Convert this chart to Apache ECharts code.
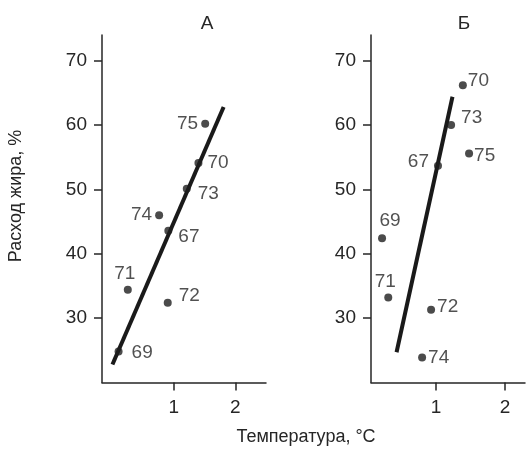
<!DOCTYPE html>
<html>
<head>
<meta charset="utf-8">
<script src="https://cdn.jsdelivr.net/npm/echarts@6/dist/echarts.min.js"></script>
<style>
  html, body { margin: 0; padding: 0; background: #fff; }
  #chart { width: 526px; height: 455px; }
</style>
</head>
<body>
<div id="chart"></div>
<script>
// панель А
const namesA = ['75', '70', '73', '74', '67', '71', '72', '69'];
const tempA = [1.51, 1.40, 1.21, 0.76, 0.91, 0.25, 0.90, 0.10];
const fatA = [60.2, 54.1, 50.1, 46.0, 43.6, 34.4, 32.4, 24.8];
const fitTempA = [0.0, 1.81];
const fitFatA = [22.8, 62.8];

// панель Б
const namesB = ['70', '73', '75', '67', '69', '71', '72', '74'];
const tempB = [1.39, 1.22, 1.48, 1.03, 0.22, 0.31, 0.93, 0.80];
const fatB = [66.2, 60.0, 55.6, 53.7, 42.4, 33.2, 31.3, 23.9];
const fitTempB = [0.43, 1.24];
const fitFatB = [24.7, 64.4];

const xTicks = [1, 2];
const yTicks = [30, 40, 50, 60, 70];

const ink = '#262626';
const font = 'Liberation Sans, Arial, sans-serif';

// положение подписей точек
const labelA = {
  '75': { position: 'left', distance: 3 },
  '70': { position: 'right', distance: 5 },
  '73': { position: 'right', distance: 7, offset: [0, 5] },
  '74': { position: 'left', distance: 3 },
  '67': { position: 'right', distance: 6, offset: [0, 6] },
  '71': { position: 'top', distance: 3, offset: [-3, 0] },
  '72': { position: 'right', distance: 7, offset: [0, -7] },
  '69': { position: 'right', distance: 9, offset: [0, 1] }
};
const labelB = {
  '70': { position: 'right', distance: 1, offset: [0, -4] },
  '73': { position: 'right', distance: 6, offset: [0, -7] },
  '75': { position: 'right', distance: 1, offset: [0, 2] },
  '67': { position: 'left', distance: 5, offset: [0, -4] },
  '69': { position: 'top', distance: 4, offset: [8, 0] },
  '71': { position: 'top', distance: 2, offset: [-3, 0] },
  '72': { position: 'right', distance: 2, offset: [0, -3] },
  '74': { position: 'right', distance: 2, offset: [0, 0] }
};

function points(names, temp, fat, labels) {
  return names.map(function (n, i) {
    return { value: [temp[i], fat[i]], name: n, label: labels[n] };
  });
}

function xAxis(idx, min, max) {
  return {
    type: 'value', gridIndex: idx, min: min, max: max,
    axisLine: { onZero: false, lineStyle: { color: ink, width: 1.5 } },
    axisTick: { customValues: xTicks, length: 8, lineStyle: { color: ink, width: 1.5 } },
    axisLabel: { customValues: xTicks, color: ink, fontSize: 19, fontFamily: font, margin: 16 },
    splitLine: { show: false }
  };
}

function yAxis(idx) {
  return {
    type: 'value', gridIndex: idx, min: 20, max: 74,
    axisLine: { show: true, onZero: false, lineStyle: { color: ink, width: 1.5 } },
    axisTick: { show: true, customValues: yTicks, length: 8, lineStyle: { color: ink, width: 1.5 } },
    axisLabel: { customValues: yTicks, color: ink, fontSize: 19, fontFamily: font, margin: 15 },
    splitLine: { show: false }
  };
}

function scatter(idx, data) {
  return {
    type: 'scatter', xAxisIndex: idx, yAxisIndex: idx,
    symbolSize: 8, itemStyle: { color: '#1e1e1e' },
    label: { show: true, formatter: '{b}', color: ink, fontSize: 19, fontFamily: font },
    data: data, z: 3
  };
}

function fit(idx, xs, ys) {
  return {
    type: 'line', xAxisIndex: idx, yAxisIndex: idx, showSymbol: false,
    lineStyle: { color: '#1a1a1a', width: 4 },
    data: xs.map(function (x, i) { return [x, ys[i]]; }), z: 2
  };
}

const chart = echarts.init(document.getElementById('chart'));
chart.setOption({
  backgroundColor: '#fff',
  animation: false,
  grid: [
    { left: 102, top: 35, width: 164, height: 347.5 },
    { left: 371, top: 35, width: 154, height: 347.5 }
  ],
  xAxis: [xAxis(0, -0.17, 2.5), xAxis(1, 0.06, 2.29)],
  yAxis: [yAxis(0), yAxis(1)],
  graphic: [
    { type: 'text', x: 207, y: 24,
      style: { text: 'А', font: '19px ' + font, fill: ink, align: 'center', verticalAlign: 'middle' } },
    { type: 'text', x: 464, y: 24,
      style: { text: 'Б', font: '19px ' + font, fill: ink, align: 'center', verticalAlign: 'middle' } },
    { type: 'text', x: 16, y: 196, rotation: Math.PI / 2,
      style: { text: 'Расход жира, %', font: '18px ' + font, fill: ink, align: 'center', verticalAlign: 'middle' } },
    { type: 'text', x: 306, y: 437,
      style: { text: 'Температура, °С', font: '18px ' + font, fill: ink, align: 'center', verticalAlign: 'middle' } }
  ],
  series: [
    fit(0, fitTempA, fitFatA),
    scatter(0, points(namesA, tempA, fatA, labelA)),
    fit(1, fitTempB, fitFatB),
    scatter(1, points(namesB, tempB, fatB, labelB))
  ]
});
</script>
</body>
</html>
